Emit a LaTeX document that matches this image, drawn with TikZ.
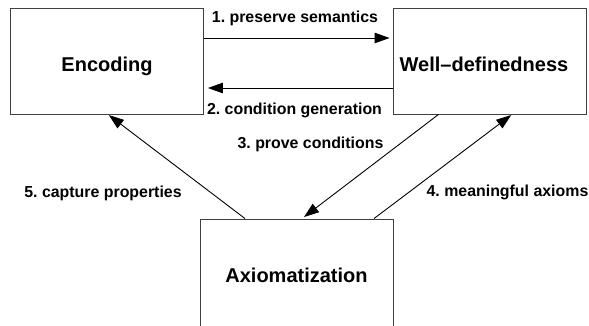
\documentclass[tikz,border=0pt]{standalone}
\usepackage{fontspec}
\setmainfont{Liberation Sans}
\usetikzlibrary{arrows.meta}
\frenchspacing
\begin{document}
\begin{tikzpicture}[x=1pt,y=-1pt,
  box/.style={draw=black!75, line width=0.9pt, minimum width=193pt, minimum height=106pt,
    inner sep=0pt, font=\fontsize{20}{24}\selectfont\bfseries, text height=20pt, text depth=0pt},
  lbl/.style={font=\fontsize{15.9}{18}\selectfont\bfseries, anchor=base, inner sep=0pt},
  conn/.style={line width=0.9pt, -{Triangle[length=15pt,width=10.5pt]}}]
\useasboundingbox (0,0) rectangle (589,325);
\clip (0,0) rectangle (589,325);
\node[box] (enc) at (107,61) {Encoding};
\node[box] (wd) at (489.5,61) {\hspace*{-11pt}Well--definedness};
\node[box, minimum height=107pt] (ax) at (296.5,272.5) {Axiomatization};
\draw[conn, shorten >=3pt] ([yshift=23pt]enc.east) -- ([yshift=23pt]wd.west);
\draw[conn, shorten >=4pt] ([yshift=-27pt]wd.west) -- ([yshift=-27pt]enc.east);
\draw[conn, shorten >=2.5pt] ([xshift=-51pt]wd.south) -- ([xshift=5.5pt]ax.north);
\draw[conn, shorten >=1pt] ([xshift=77.5pt]ax.north) -- ([xshift=22.5pt]wd.south);
\draw[conn, shorten >=1pt] ([xshift=-51.5pt]ax.north) -- ([xshift=1pt]enc.south);
\node[lbl] (l1) at (295,22.3) {1. preserve semantics};
\node[lbl] (l2) at (294.5,114) {2. condition generation};
\node[lbl] (l3) at (310.5,148) {3. prove conditions};
\node[lbl] (l4) at (507.5,196.7) {4. meaningful axioms};
\node[lbl] (l5) at (103,197) {5. capture properties};
\end{tikzpicture}
\end{document}
